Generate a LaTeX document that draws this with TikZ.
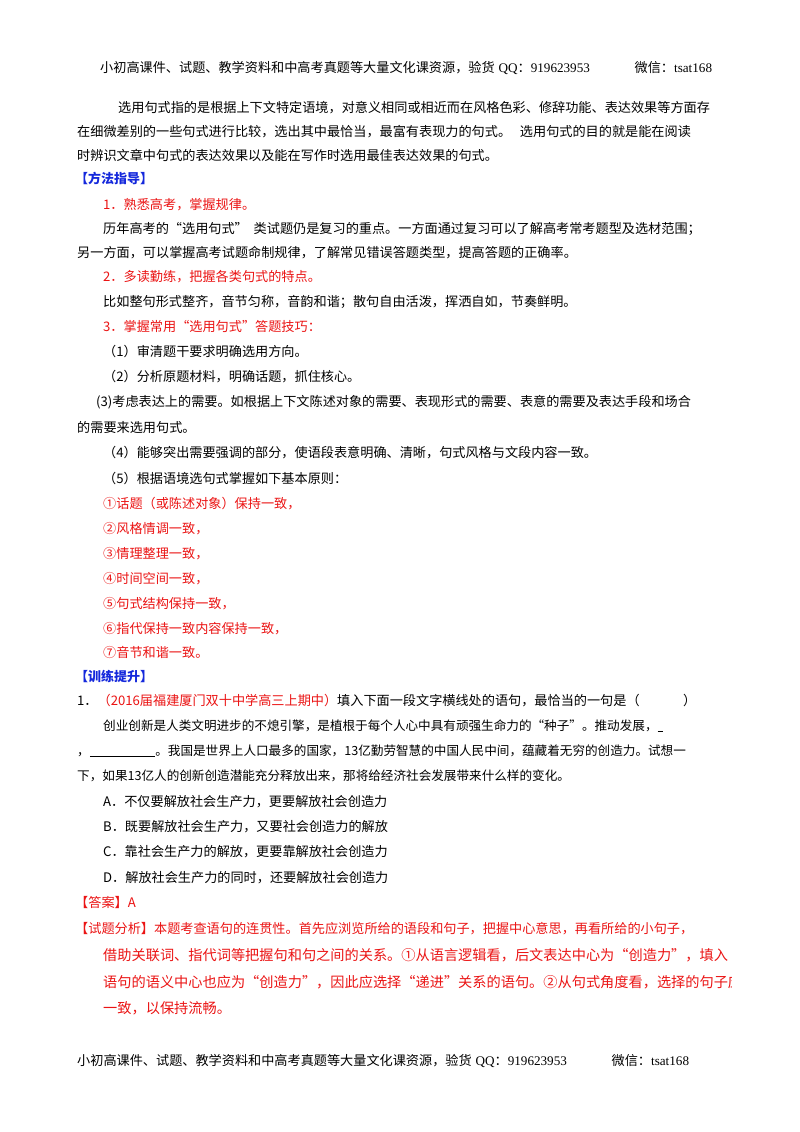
\documentclass[tikz,border=0pt]{standalone}
\usepackage{fontspec}
\newfontfamily\cjk{Noto Sans CJK SC}
\newfontfamily\ser{Liberation Serif}
\definecolor{rd}{RGB}{235,20,20}
\definecolor{bl}{RGB}{20,40,220}
\newcommand{\hdtext}{小初高课件、试题、教学资料和中高考真题等大量文化课资源，验货\hspace{0.3em}{\ser QQ}：{\ser 919623953}\hspace{3.4em}微信：{\ser tsat168}}
\begin{document}
\begin{tikzpicture}[x=1pt,y=-1pt,
  t/.style={anchor=base west,inner sep=0pt,font=\cjk\fontsize{13.15}{13}\selectfont},
  r/.style={t,text=rd},
  b/.style={t,text=bl,font=\cjk\bfseries\fontsize{13}{13}\selectfont},
  a/.style={t,font=\cjk\fontsize{12.6}{13}\selectfont},
  h/.style={t,text=rd,font=\cjk\fontsize{14.2}{14}\selectfont}]
\useasboundingbox[fill=white] (0,0) rectangle (800,1132);
\node[t] (hd) at (100,73) {\hdtext};
\node[t] (p1) at (118,112) {选用句式指的是根据上下文特定语境，对意义相同或相近而在风格色彩、修辞功能、表达效果等方面存};
\node[t] (p2) at (77,136) {在细微差别的一些句式进行比较，选出其中最恰当，最富有表现力的句式。\ \ \ 选用句式的目的就是能在阅读};
\node[t] (p3) at (77,160) {时辨识文章中句式的表达效果以及能在写作时选用最佳表达效果的句式。};
\node[b] (m) at (75,183) {【方法指导】};
\node[r] (m1) at (103,209) {1．熟悉高考，掌握规律。};
\node[t] (m2) at (103,233) {历年高考的“选用句式”\ \ 类试题仍是复习的重点。一方面通过复习可以了解高考常考题型及选材范围；};
\node[t] (m3) at (77,257) {另一方面，可以掌握高考试题命制规律，了解常见错误答题类型，提高答题的正确率。};
\node[r] (m4) at (103,281) {2．多读勤练，把握各类句式的特点。};
\node[t] (m5) at (103,306) {比如整句形式整齐，音节匀称，音韵和谐；散句自由活泼，挥洒自如，节奏鲜明。};
\node[r] (m6) at (103,331) {3．掌握常用“选用句式”答题技巧：};
\node[t] (k1) at (103,356) {（1）审清题干要求明确选用方向。};
\node[t] (k2) at (103,381) {（2）分析原题材料，明确话题，抓住核心。};
\node[t] (k3) at (96,406) {(3)考虑表达上的需要。如根据上下文陈述对象的需要、表现形式的需要、表意的需要及表达手段和场合};
\node[t] (k3b) at (77,432) {的需要来选用句式。};
\node[t] (k4) at (103,457) {（4）能够突出需要强调的部分，使语段表意明确、清晰，句式风格与文段内容一致。};
\node[t] (k5) at (103,483) {（5）根据语境选句式掌握如下基本原则：};
\node[r] (q1) at (103,508) {①话题（或陈述对象）保持一致，};
\node[r] (q2) at (103,533) {②风格情调一致，};
\node[r] (q3) at (103,558) {③情理整理一致，};
\node[r] (q4) at (103,583) {④时间空间一致，};
\node[r] (q5) at (103,608) {⑤句式结构保持一致，};
\node[r] (q6) at (103,633) {⑥指代保持一致内容保持一致，};
\node[r] (q7) at (103,657) {⑦音节和谐一致。};
\node[b] (x) at (75,681) {【训练提升】};
\node[t] (e1) at (77,705) {1．{\color{rd}（2016届福建厦门双十中学高三上期中）}填入下面一段文字横线处的语句，最恰当的一句是（\hspace{3.3em}）};
\node[a] (e2) at (103,730) {创业创新是人类文明进步的不熄引擎，是植根于每个人心中具有顽强生命力的“种子”。推动发展，\underline{\ \ }};
\node[a] (e3) at (77,755) {，\underline{\hspace{5.2em}}。我国是世界上人口最多的国家，13亿勤劳智慧的中国人民中间，蕴藏着无穷的创造力。试想一};
\node[a] (e4) at (77,780) {下，如果13亿人的创新创造潜能充分释放出来，那将给经济社会发展带来什么样的变化。};
\node[t] (oa) at (103,806) {A．不仅要解放社会生产力，更要解放社会创造力};
\node[t] (ob) at (103,831) {B．既要解放社会生产力，又要社会创造力的解放};
\node[t] (oc) at (103,856) {C．靠社会生产力的解放，更要靠解放社会创造力};
\node[t] (od) at (103,882) {D．解放社会生产力的同时，还要解放社会创造力};
\node[r] (ans) at (75,907) {【答案】A};
\node[t] (an) at (75,933) {{\color{rd}【试题分析】本题考查语句的连贯性。首先应浏览所给的语段和句子，把握中心意思，再看所给的小句子，}};
\begin{scope}
\clip (90,940) rectangle (731,1010);
\node[h] (r1) at (103,960) {借助关联词、指代词等把握句和句之间的关系。①从语言逻辑看，后文表达中心为“创造力”，填入};
\node[h] (r2) at (103,987) {语句的语义中心也应为“创造力”，因此应选择“递进”关系的语句。②从句式角度看，选择的句子应};
\end{scope}
\node[h] (r3) at (103,1013) {一致，以保持流畅。};
\node[t] (ft) at (77,1065) {\hdtext};
\end{tikzpicture}
\end{document}
